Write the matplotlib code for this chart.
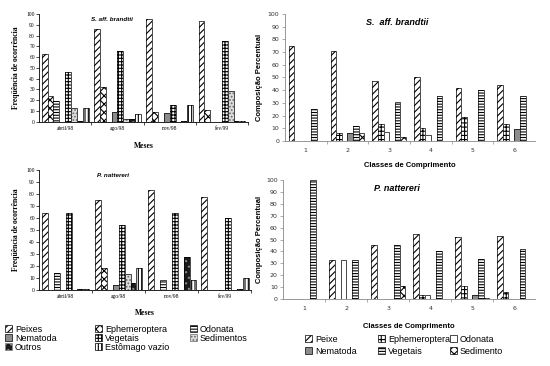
import numpy as np
import matplotlib.pyplot as plt
from matplotlib.patches import Patch

plt.rcParams['hatch.linewidth'] = 0.8

# --- dados: frequencia de ocorrencia por mes (%) ---
meses = ['abril/98', 'ago/98', 'nov/98', 'fev/99']
itens_mes = ['Peixes', 'Ephemeroptera', 'Odonata', 'Nematoda', 'Vegetais',
             'Sedimentos', 'Outros', 'Estômago vazio']
brandtii_mes = [
    [63, 86, 95, 93],   # Peixes
    [24, 32, 9, 11],    # Ephemeroptera
    [19, 0, 0, 0],      # Odonata
    [0, 9, 8, 0],       # Nematoda
    [46, 66, 16, 75],   # Vegetais
    [13, 3, 0, 29],     # Sedimentos
    [1, 3, 1, 1],       # Outros
    [13, 7, 16, 1],     # Estomago vazio
]
nattereri_mes = [
    [64, 75, 83, 77],
    [0, 18, 0, 0],
    [14, 0, 8, 0],
    [0, 4, 0, 0],
    [64, 54, 64, 60],
    [0, 13, 0, 0],
    [1, 6, 27, 1],
    [1, 18, 8, 10],
]

# --- dados: composicao percentual por classe de comprimento ---
classes = ['1', '2', '3', '4', '5', '6']
itens_classe = ['Peixe', 'Ephemeroptera', 'Odonata', 'Nematoda', 'Vegetais', 'Sedimento']
brandtii_classe = [
    [75, 71, 47, 50, 42, 44],
    [0, 6, 13, 10, 19, 13],
    [0, 0, 7, 5, 0, 0],
    [0, 6, 0, 0, 0, 9],
    [25, 12, 31, 35, 40, 35],
    [0, 6, 3, 0, 0, 0],
]
nattereri_classe = [
    [0, 33, 45, 55, 52, 53],
    [0, 0, 0, 3, 11, 6],
    [0, 33, 0, 3, 0, 0],
    [0, 0, 0, 0, 3, 0],
    [100, 33, 45, 40, 34, 42],
    [0, 0, 11, 0, 1, 0],
]

# estilos (facecolor, hatch, hatch color)
est_mes = [('white', '/////', 'k'), ('white', 'xxxx', 'k'), ('white', '------', 'k'),
           ('#8c8c8c', '', 'k'), ('white', '+++++', 'k'), ('#dcdcdc', '.....', '#666666'),
           ('#1a1a1a', '...', '#888888'), ('white', '|||||', 'k')]
est_classe = [('white', '/////', 'k'), ('white', '++++', 'k'), ('white', '', 'k'),
              ('#8c8c8c', '', 'k'), ('white', '------', 'k'), ('white', 'xxxx', 'k')]

serif = 'Liberation Serif'
sans = 'Liberation Sans'

fig = plt.figure(figsize=(5.5, 3.66), dpi=100)


def barras(ax, dados, estilos, n, w):
    k = len(dados)
    x = np.arange(n)
    for i, (vals, (fc, h, hc)) in enumerate(zip(dados, estilos)):
        pos = x + (i - (k - 1) / 2) * w
        ax.bar(pos, vals, w, color=fc, edgecolor=hc, hatch=h, linewidth=0)
        ax.bar(pos, vals, w, fill=False, edgecolor='k', linewidth=0.5)


def painel_mes(rect, dados, titulo):
    ax = fig.add_axes(rect)
    barras(ax, dados, est_mes, len(meses), 0.112)
    ax.set_xlim(-0.5, len(meses) - 0.5)
    ax.set_ylim(0, 100)
    ax.set_yticks(range(0, 101, 10))
    ax.set_xticks(range(len(meses)))
    ax.set_xticklabels(meses, fontfamily=serif, fontsize=4)
    ax.set_xticks(np.arange(0.5, len(meses), 1), minor=True)
    ax.tick_params(axis='x', which='major', length=0, pad=3)
    ax.tick_params(axis='x', which='minor', length=2, width=0.5)
    ax.tick_params(axis='y', length=2, width=0.5, pad=1)
    for t in ax.get_yticklabels():
        t.set_fontfamily(serif)
        t.set_fontsize(4)
    for s in ['top', 'right']:
        ax.spines[s].set_visible(False)
    for s in ['left', 'bottom']:
        ax.spines[s].set_linewidth(0.6)
    ax.set_ylabel('Freqüência de ocorrência', fontfamily=serif, fontweight='bold', fontsize=5.5)
    ax.set_xlabel('Meses', fontfamily=serif, fontweight='bold', fontsize=5.5)
    ax.text(0.35, 0.95, titulo, transform=ax.transAxes, ha='center', va='center',
            fontfamily=sans, fontstyle='italic', fontweight='bold', fontsize=4.5)
    return ax


def painel_classe(rect, dados, titulo):
    ax = fig.add_axes(rect)
    barras(ax, dados, est_classe, len(classes), 0.135)
    ax.set_xlim(-0.5, len(classes) - 0.5)
    ax.set_ylim(0, 100)
    ax.set_yticks(range(0, 101, 10))
    ax.set_xticks(range(len(classes)))
    ax.set_xticklabels(classes)
    ax.set_xticks(np.arange(0.5, len(classes) - 1, 1), minor=True)
    ax.tick_params(axis='x', which='major', length=0, pad=5, labelsize=4.5, labelcolor='#333333')
    ax.tick_params(axis='x', which='minor', length=2, width=0.5, color='#888888')
    ax.tick_params(axis='y', length=2, width=0.5, pad=2, labelsize=4.5,
                   labelcolor='#333333', color='#888888')
    for s in ['top', 'right']:
        ax.spines[s].set_visible(False)
    for s in ['left', 'bottom']:
        ax.spines[s].set_linewidth(0.6)
        ax.spines[s].set_color('#888888')
    ax.set_ylabel('Composição Percentual', fontfamily=sans, fontweight='bold', fontsize=5.5)
    ax.set_xlabel('Classes de Comprimento', fontfamily=sans, fontweight='bold', fontsize=5.5)
    ax.text(0.45, 0.93, titulo, transform=ax.transAxes, ha='center', va='center',
            fontfamily=sans, fontstyle='italic', fontweight='bold', fontsize=6.5)
    return ax


ax1 = painel_mes([0.071, 0.667, 0.38, 0.295], brandtii_mes, 'S. aff. brandtii')
ax1.yaxis.set_label_coords(-0.09, 0.5)
ax1.xaxis.set_label_coords(0.5, -0.185)
ax2 = painel_mes([0.071, 0.208, 0.386, 0.328], nattereri_mes, 'P. nattereri')
ax2.yaxis.set_label_coords(-0.09, 0.5)
ax2.xaxis.set_label_coords(0.5, -0.16)
ax3 = painel_classe([0.518, 0.615, 0.455, 0.347], brandtii_classe, 'S.  aff. brandtii')
ax3.yaxis.set_label_coords(-0.088, 0.5)
ax3.xaxis.set_label_coords(0.5, -0.165)
ax4 = painel_classe([0.515, 0.183, 0.458, 0.325], nattereri_classe, 'P. nattereri')
ax4.yaxis.set_label_coords(-0.08, 0.5)
ax4.xaxis.set_label_coords(0.5, -0.2)


def patch(fc, h, hc):
    return Patch(facecolor=fc, edgecolor=hc, hatch=h, linewidth=0.5)


def legenda(idx, nomes, estilos, x, y, dy):
    hs = [patch(*estilos[i]) for i in idx]
    fig.legend(hs, [nomes[i] for i in idx], loc='upper left', bbox_to_anchor=(x, y),
               frameon=False, handlelength=0.8, handleheight=0.8,
               handletextpad=0.3, labelspacing=dy, borderpad=0, borderaxespad=0,
               prop={'family': sans, 'size': 6.5})


# legenda da esquerda (tres colunas)
legenda([0, 3, 6], itens_mes, est_mes, 5 / 550, 0.112, 0.0)
legenda([1, 4, 7], itens_mes, est_mes, 95 / 550, 0.112, 0.0)
legenda([2, 5], itens_mes, est_mes, 190 / 550, 0.112, 0.0)
# legenda da direita
legenda([0, 3], itens_classe, est_classe, 305 / 550, 0.086, 0.35)
legenda([1, 4], itens_classe, est_classe, 378 / 550, 0.086, 0.35)
legenda([2, 5], itens_classe, est_classe, 450 / 550, 0.086, 0.35)

fig.savefig('out.png', dpi=100)
